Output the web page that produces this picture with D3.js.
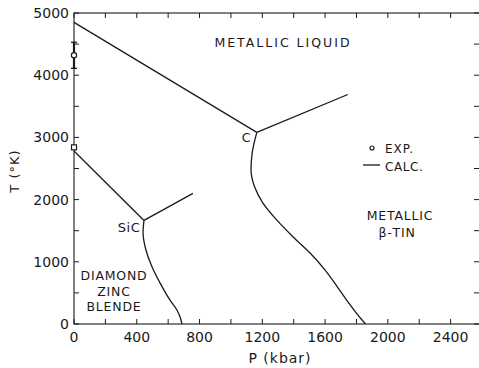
<!DOCTYPE html>
<html><head><meta charset="utf-8">
<script src="https://cdn.jsdelivr.net/npm/d3@7"></script>
<style>
html,body{margin:0;padding:0;background:#fff;}
text{font-family:"DejaVu Sans",sans-serif;fill:#1a1a1a;}
</style></head>
<body><svg id="c" width="479" height="368"></svg>
<script>
// ---- data ----
const xMajorTicks = [0, 400, 800, 1200, 1600, 2000, 2400];
const xMinorTicks = [200, 600, 1000, 1400, 1800, 2200];
const yMajorTicks = [0, 1000, 2000, 3000, 4000, 5000];
const yMinorTicks = [500, 1500, 2500, 3500, 4500];
// carbon phase boundaries (P kbar, T K)
const carbonDiamondMelt = [[0, 4850], [1165, 3080]];
const carbonTinMelt = [[1165, 3080], [1745, 3690]];
const carbonDiamondTin = [[1165, 3080], [1136, 2758], [1128, 2484], [1150, 2210], [1202, 1952], [1290, 1677], [1395, 1403], [1503, 1145], [1599, 871], [1678, 597], [1750, 339], [1830, 80], [1858, 0]];
// SiC phase boundaries
const sicZincMelt = [[0, 2780], [446, 1665]];
const sicTinMelt = [[446, 1665], [758, 2100]];
const sicZincTin = [[446, 1665], [440, 1468], [458, 1194], [497, 919], [548, 661], [611, 387], [656, 226], [678, 97], [688, 0]];
// experimental points
const expCarbon = {P: 0, T: 4320, lo: 4110, hi: 4530};
const expSiC = {P: 0, T: 2840};

// ---- chart ----
const svg = d3.select("#c");
const x = d3.scaleLinear().domain([0, 2600]).range([74, 482]);
const y = d3.scaleLinear().domain([0, 5000]).range([324, 13]);
const ink = "#1a1a1a";

const g = svg.append("g");
// frame
g.append("rect").attr("x", x(0)).attr("y", y(5000)).attr("width", x(2600) - x(0)).attr("height", y(0) - y(5000))
  .attr("fill", "none").attr("stroke", ink).attr("stroke-width", 1.1);

const tl = 5;
const allX = xMajorTicks.concat(xMinorTicks);
const allY = yMajorTicks.concat(yMinorTicks);
g.selectAll(".bt").data(allX).join("line").attr("x1", d => x(d)).attr("x2", d => x(d))
  .attr("y1", y(0)).attr("y2", y(0) - tl).attr("stroke", ink);
g.selectAll(".tt").data(allX).join("line").attr("x1", d => x(d)).attr("x2", d => x(d))
  .attr("y1", y(5000)).attr("y2", y(5000) + tl).attr("stroke", ink);
g.selectAll(".lt").data(allY).join("line").attr("x1", x(0)).attr("x2", x(0) + tl)
  .attr("y1", d => y(d)).attr("y2", d => y(d)).attr("stroke", ink);
g.selectAll(".rt").data(allY).join("line").attr("x1", x(2600)).attr("x2", x(2600) - tl - 3)
  .attr("y1", d => y(d)).attr("y2", d => y(d)).attr("stroke", ink);

// tick labels
g.selectAll(".xl").data(xMajorTicks).join("text").attr("x", d => x(d)).attr("y", 342)
  .attr("text-anchor", "middle").attr("font-size", 14).text(d => d);
g.selectAll(".yl").data(yMajorTicks).join("text").attr("x", 69).attr("y", d => y(d) + 5)
  .attr("text-anchor", "end").attr("font-size", 14).text(d => d);

// axis titles
g.append("text").attr("x", 280).attr("y", 363).attr("text-anchor", "middle").attr("font-size", 14)
  .attr("letter-spacing", 1).text("P (kbar)");
g.append("text").attr("transform", "translate(19,171) rotate(-90)").attr("text-anchor", "middle")
  .attr("font-size", 13).attr("letter-spacing", 1).text("T (°K)");

// curves
const line = d3.line().x(d => x(d[0])).y(d => y(d[1]));
const smooth = d3.line().x(d => x(d[0])).y(d => y(d[1])).curve(d3.curveMonotoneY);
[carbonDiamondMelt, carbonTinMelt, sicZincMelt, sicTinMelt].forEach(p =>
  g.append("path").attr("d", line(p)).attr("fill", "none").attr("stroke", ink).attr("stroke-width", 1.3));
[carbonDiamondTin, sicZincTin].forEach(p =>
  g.append("path").attr("d", smooth(p)).attr("fill", "none").attr("stroke", ink).attr("stroke-width", 1.3));

// experimental points
g.append("line").attr("x1", x(expCarbon.P)).attr("x2", x(expCarbon.P)).attr("y1", y(expCarbon.lo)).attr("y2", y(expCarbon.hi))
  .attr("stroke", ink).attr("stroke-width", 2.2);
[expCarbon.lo, expCarbon.hi].forEach(v =>
  g.append("line").attr("x1", x(0) - 3).attr("x2", x(0) + 3).attr("y1", y(v)).attr("y2", y(v)).attr("stroke", ink).attr("stroke-width", 1.3));
g.append("circle").attr("cx", x(expCarbon.P)).attr("cy", y(expCarbon.T)).attr("r", 2.6)
  .attr("fill", "#fff").attr("stroke", ink).attr("stroke-width", 1.2);
g.append("rect").attr("x", x(expSiC.P) - 2.5).attr("y", y(expSiC.T) - 2.5).attr("width", 5).attr("height", 5)
  .attr("fill", "#fff").attr("stroke", ink).attr("stroke-width", 1.2);

// region labels
function label(tx, ty, s, fs, ls, anchor) {
  g.append("text").attr("x", tx).attr("y", ty).attr("font-size", fs).attr("letter-spacing", ls)
    .attr("text-anchor", anchor || "middle").text(s);
}
label(283, 47, "METALLIC  LIQUID", 12.5, 2);
label(246, 142, "C", 12.5, 0);
label(129, 232, "SiC", 13, 0.5);
label(114, 280, "DIAMOND", 12.5, 0.8);
label(114, 295.5, "ZINC", 12.5, 0.8);
label(114, 311, "BLENDE", 12.5, 0.8);
label(400, 220, "METALLIC", 12.5, 0.8);
label(397, 237, "β-TIN", 12.5, 0.8);

// legend
g.append("circle").attr("cx", 372).attr("cy", 148).attr("r", 2).attr("fill", "#fff").attr("stroke", ink).attr("stroke-width", 1.2);
g.append("text").attr("x", 385).attr("y", 153).attr("font-size", 12).attr("letter-spacing", 1).text("EXP.");
g.append("line").attr("x1", 363).attr("x2", 380).attr("y1", 165).attr("y2", 165).attr("stroke", ink).attr("stroke-width", 1.3);
g.append("text").attr("x", 385).attr("y", 171).attr("font-size", 12).attr("letter-spacing", 0.6).text("CALC.");
</script></body></html>
